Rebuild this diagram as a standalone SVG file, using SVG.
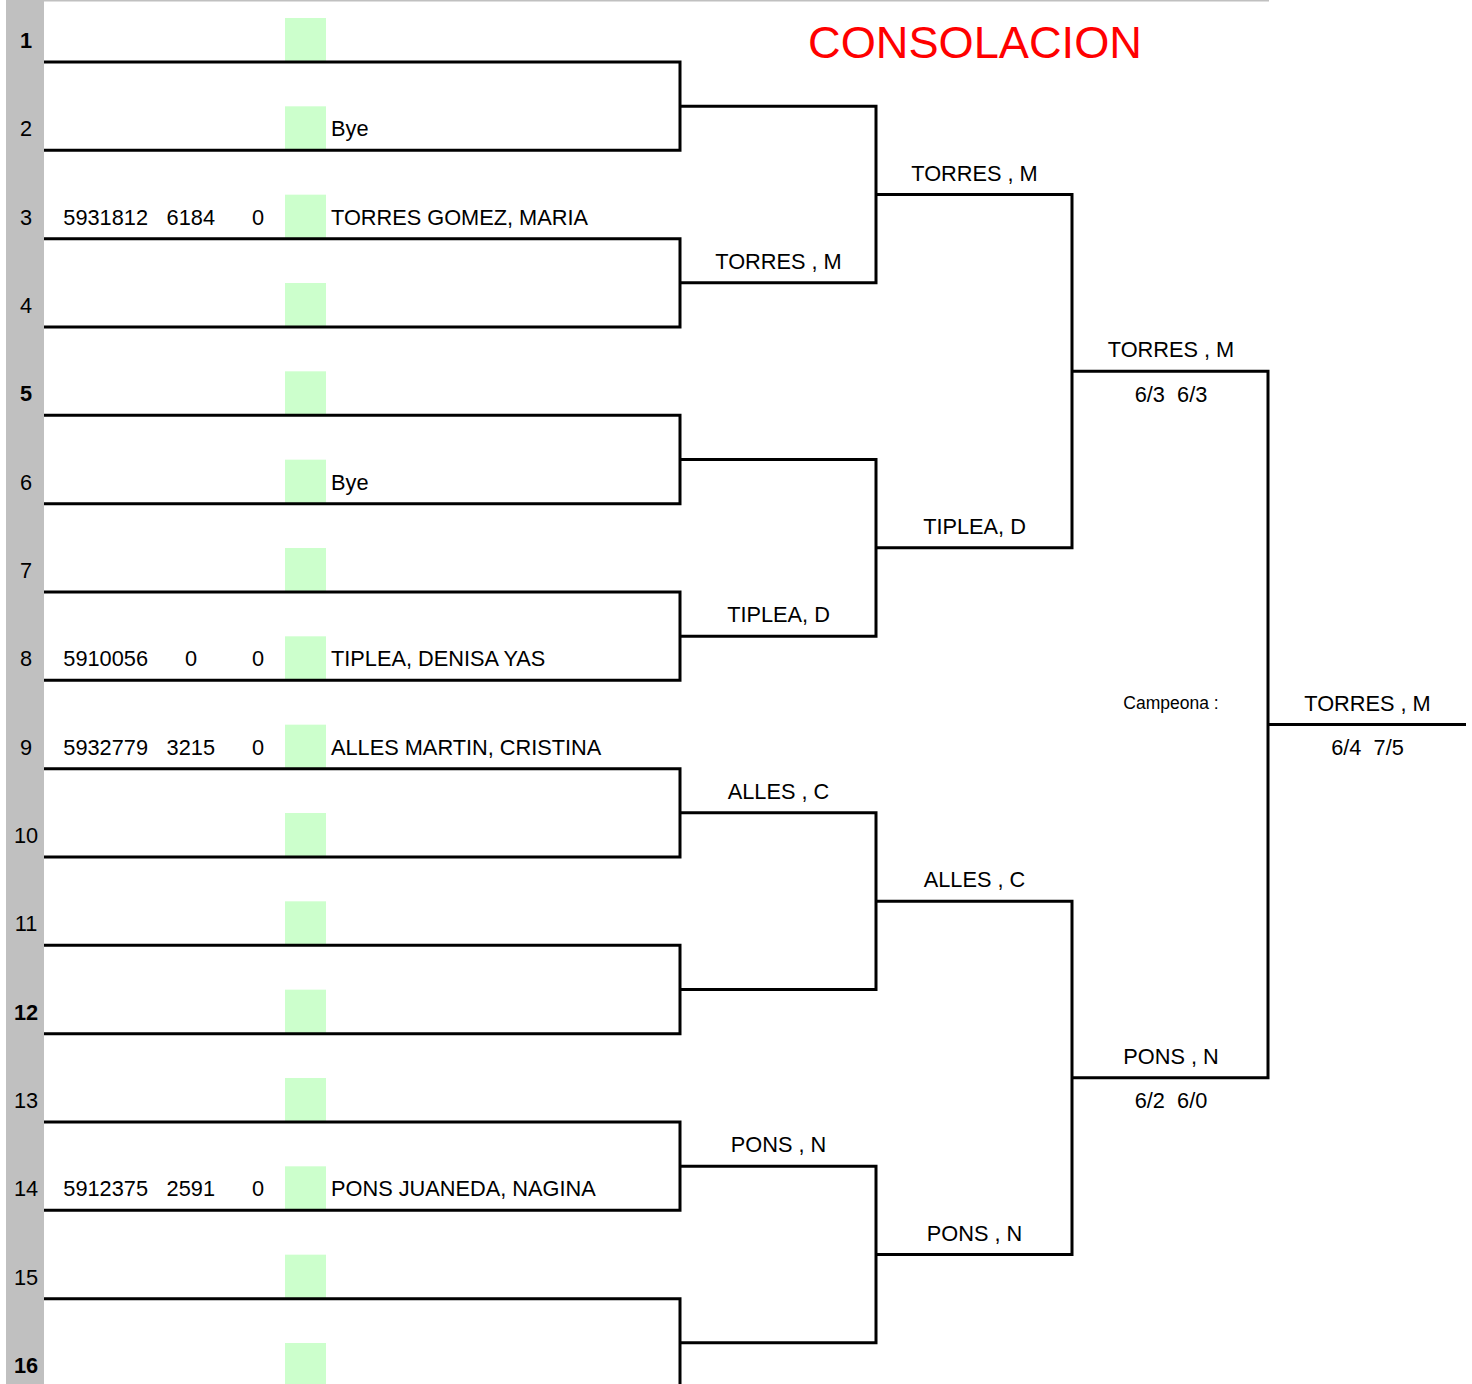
<svg xmlns="http://www.w3.org/2000/svg" width="1472" height="1384" viewBox="0 0 1472 1384">
<style>
text { font-family: "Liberation Sans", Arial, sans-serif; font-size: 21.75px; fill: #000000; }
.n { text-anchor: middle; }
.b { font-weight: bold; }
.r { text-anchor: end; }
.c { text-anchor: middle; }
.seed { fill: #ccffcc; }
.ln { fill: none; stroke: #000000; stroke-width: 3; stroke-linejoin: miter; }
.title { fill: #ff0000; font-size: 45.2px; text-anchor: middle; }
.small { font-size: 17.5px; }
</style>
<rect x="0" y="0" width="1472" height="1384" fill="#ffffff"/>
<g id="sidebar">
<rect x="6" y="0" width="38" height="1384" fill="#c0c0c0"/>
<rect x="44" y="0" width="1225" height="1.5" fill="#c0c0c0"/>
</g>
<text id="title" class="title" x="975" y="57.5">CONSOLACION</text>

<g id="row1"><rect class="seed" x="285" y="18" width="41" height="44"/><text class="n b" x="26" y="48">1</text></g>
<g id="row2"><rect class="seed" x="285" y="106.33" width="41" height="44"/><text class="n" x="26" y="136.3">2</text><text x="331" y="136.3">Bye</text></g>
<g id="row3"><rect class="seed" x="285" y="194.67" width="41" height="44"/><text class="n" x="26" y="224.7">3</text><text class="r" x="148" y="224.7">5931812</text><text class="r" x="215" y="224.7">6184</text><text class="r" x="264" y="224.7">0</text><text x="331" y="224.7">TORRES GOMEZ, MARIA</text></g>
<g id="row4"><rect class="seed" x="285" y="283" width="41" height="44"/><text class="n" x="26" y="313">4</text></g>
<g id="row5"><rect class="seed" x="285" y="371.33" width="41" height="44"/><text class="n b" x="26" y="401.3">5</text></g>
<g id="row6"><rect class="seed" x="285" y="459.67" width="41" height="44"/><text class="n" x="26" y="489.7">6</text><text x="331" y="489.7">Bye</text></g>
<g id="row7"><rect class="seed" x="285" y="548" width="41" height="44"/><text class="n" x="26" y="578">7</text></g>
<g id="row8"><rect class="seed" x="285" y="636.33" width="41" height="44"/><text class="n" x="26" y="666.3">8</text><text class="r" x="148" y="666.3">5910056</text><text class="r" x="197" y="666.3">0</text><text class="r" x="264" y="666.3">0</text><text x="331" y="666.3">TIPLEA, DENISA YAS</text></g>
<g id="row9"><rect class="seed" x="285" y="724.67" width="41" height="44"/><text class="n" x="26" y="754.7">9</text><text class="r" x="148" y="754.7">5932779</text><text class="r" x="215" y="754.7">3215</text><text class="r" x="264" y="754.7">0</text><text x="331" y="754.7">ALLES MARTIN, CRISTINA</text></g>
<g id="row10"><rect class="seed" x="285" y="813" width="41" height="44"/><text class="n" x="26" y="843">10</text></g>
<g id="row11"><rect class="seed" x="285" y="901.33" width="41" height="44"/><text class="n" x="26" y="931.3">11</text></g>
<g id="row12"><rect class="seed" x="285" y="989.67" width="41" height="44"/><text class="n b" x="26" y="1019.7">12</text></g>
<g id="row13"><rect class="seed" x="285" y="1078" width="41" height="44"/><text class="n" x="26" y="1108">13</text></g>
<g id="row14"><rect class="seed" x="285" y="1166.33" width="41" height="44"/><text class="n" x="26" y="1196.3">14</text><text class="r" x="148" y="1196.3">5912375</text><text class="r" x="215" y="1196.3">2591</text><text class="r" x="264" y="1196.3">0</text><text x="331" y="1196.3">PONS JUANEDA, NAGINA</text></g>
<g id="row15"><rect class="seed" x="285" y="1254.67" width="41" height="44"/><text class="n" x="26" y="1284.7">15</text></g>
<g id="row16"><rect class="seed" x="285" y="1343" width="41" height="44"/><text class="n b" x="26" y="1373">16</text></g>

<g id="connectors">
<path class="ln" d="M44 62 H680 V150.33 H44"/>
<path class="ln" d="M44 238.67 H680 V327 H44"/>
<path class="ln" d="M44 415.33 H680 V503.67 H44"/>
<path class="ln" d="M44 592 H680 V680.33 H44"/>
<path class="ln" d="M44 768.67 H680 V857 H44"/>
<path class="ln" d="M44 945.33 H680 V1033.67 H44"/>
<path class="ln" d="M44 1122 H680 V1210.33 H44"/>
<path class="ln" d="M44 1298.67 H680 V1387 H44"/>
<path class="ln" d="M680 106.17 H876 V282.83 H680"/>
<path class="ln" d="M680 459.5 H876 V636.17 H680"/>
<path class="ln" d="M680 812.83 H876 V989.5 H680"/>
<path class="ln" d="M680 1166.17 H876 V1342.83 H680"/>
<path class="ln" d="M876 194.5 H1072 V547.83 H876"/>
<path class="ln" d="M876 901.17 H1072 V1254.5 H876"/>
<path class="ln" d="M1072 371.17 H1268 V1077.83 H1072"/>
<path class="ln" d="M1268 724.5 H1466"/>
</g>

<g id="round2">
<text class="c" x="778.5" y="268.8">TORRES , M</text>
<text class="c" x="778.5" y="622.2">TIPLEA, D</text>
<text class="c" x="778.5" y="798.8">ALLES , C</text>
<text class="c" x="778.5" y="1152.2">PONS , N</text>
</g>
<g id="round3">
<text class="c" x="974.5" y="180.5">TORRES , M</text>
<text class="c" x="974.5" y="533.8">TIPLEA, D</text>
<text class="c" x="974.5" y="887.2">ALLES , C</text>
<text class="c" x="974.5" y="1240.5">PONS , N</text>
</g>
<g id="semifinal">
<text class="c" x="1171" y="357.2">TORRES , M</text>
<text class="c" x="1171" y="401.7" xml:space="preserve">6/3  6/3</text>
<text class="c" x="1171" y="1063.8">PONS , N</text>
<text class="c" x="1171" y="1108.3" xml:space="preserve">6/2  6/0</text>
</g>
<g id="final">
<text class="c small" x="1171" y="709">Campeona :</text>
<text class="c" x="1367.5" y="710.5">TORRES , M</text>
<text class="c" x="1367.5" y="755" xml:space="preserve">6/4  7/5</text>
</g>
</svg>
